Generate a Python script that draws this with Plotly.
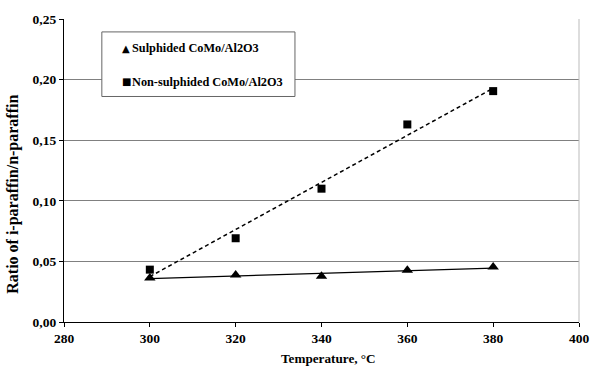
import numpy as np
import plotly.graph_objects as go

# Reaction temperature, °C
temperature = [300, 320, 340, 360, 380]
# i-paraffin / n-paraffin ratio for each catalyst
sulphided = [0.0363, 0.0388, 0.0377, 0.0426, 0.0453]
non_sulphided = [0.0432, 0.0691, 0.1100, 0.1630, 0.1905]

x_ticks = [280, 300, 320, 340, 360, 380, 400]
y_ticks = [0.00, 0.05, 0.10, 0.15, 0.20, 0.25]

FONT = "Liberation Serif"

# Linear trend lines over the measured range
t = np.array(temperature, dtype=float)
fit_s = np.polyfit(t, sulphided, 1)
fit_n = np.polyfit(t, non_sulphided, 1)
t_line = np.array([t.min(), t.max()])

fig = go.Figure()

fig.add_trace(go.Scatter(
    x=t_line, y=np.polyval(fit_s, t_line), mode="lines",
    line=dict(color="black", width=1.3), showlegend=False, hoverinfo="skip"))
fig.add_trace(go.Scatter(
    x=t_line, y=np.polyval(fit_n, t_line), mode="lines",
    line=dict(color="black", width=1.5, dash="4px,3px"), showlegend=False, hoverinfo="skip"))

fig.add_trace(go.Scatter(
    x=temperature, y=sulphided, mode="markers", name="Sulphided CoMo/Al2O3",
    marker=dict(symbol="triangle-up", size=10, color="black"), showlegend=False))
fig.add_trace(go.Scatter(
    x=temperature, y=non_sulphided, mode="markers", name="Non-sulphided CoMo/Al2O3",
    marker=dict(symbol="square", size=8, color="black"), showlegend=False))

# Legend box
fig.add_shape(type="rect", xref="paper", yref="paper",
              x0=(102.5 - 64) / 524, x1=(299 - 64) / 524,
              y0=(322 - 95) / 305, y1=(322 - 30) / 305,
              line=dict(color="#666666", width=1), fillcolor="white", layer="above")
legend_rows = [("\u25B2", "Sulphided CoMo/Al2O3", 46.5),
               ("\u25A0", "Non-sulphided CoMo/Al2O3", 80)]
for glyph, label, ypix in legend_rows:
    fig.add_annotation(xref="paper", yref="paper",
                       x=(121 - 64) / 524, y=(322 - ypix) / 305,
                       text="<b>" + glyph + "</b>", showarrow=False,
                       xanchor="left", yanchor="middle",
                       font=dict(family="DejaVu Sans", size=10, color="black"))
    fig.add_annotation(xref="paper", yref="paper",
                       x=(131 - 64) / 524, y=(322 - ypix) / 305,
                       text="<b>" + label + "</b>", showarrow=False,
                       xanchor="left", yanchor="middle",
                       font=dict(family=FONT, size=12.3, color="black"))

# Right border of plot area
fig.add_shape(type="line", xref="paper", yref="paper", x0=1, x1=1, y0=0, y1=1,
              line=dict(color="#bbbbbb", width=1))

# Axis titles
fig.add_annotation(xref="paper", yref="paper", x=(333.5 - 64) / 524, y=-(359 - 322) / 305,
                   text="<b>Temperature, °C</b>", showarrow=False,
                   xanchor="center", yanchor="middle",
                   font=dict(family=FONT, size=13.2, color="black"))
fig.add_annotation(xref="paper", yref="paper", x=-(64 - 12) / 524, y=(322 - 193) / 305,
                   text="<b>Ratio of i-paraffin/n-paraffin</b>", showarrow=False,
                   textangle=-90, xanchor="center", yanchor="middle",
                   font=dict(family=FONT, size=16, color="black"))

fig.update_layout(
    width=601, height=368,
    margin=dict(l=64, r=13, t=17, b=46),
    paper_bgcolor="white", plot_bgcolor="white",
    separators=",.",
    font=dict(family=FONT, size=13.5, color="black"),
    xaxis=dict(range=[280, 400], tickvals=x_ticks, ticktext=[f"<b>{v}</b>" for v in x_ticks],
               showgrid=False, zeroline=False, showline=True, linecolor="black", linewidth=1.3,
               ticks="outside", ticklen=4, tickcolor="black", tickfont=dict(size=13.5)),
    yaxis=dict(range=[0, 0.25], tickvals=y_ticks,
               ticktext=[f"<b>{v:.2f}</b>".replace(".", ",") for v in y_ticks],
               showgrid=True, gridcolor="#808080", gridwidth=1,
               zeroline=False, showline=True, linecolor="black", linewidth=1.3,
               ticks="outside", ticklen=4, tickcolor="black", tickfont=dict(size=13.5)),
    showlegend=False,
)

fig.write_html("out.html")
